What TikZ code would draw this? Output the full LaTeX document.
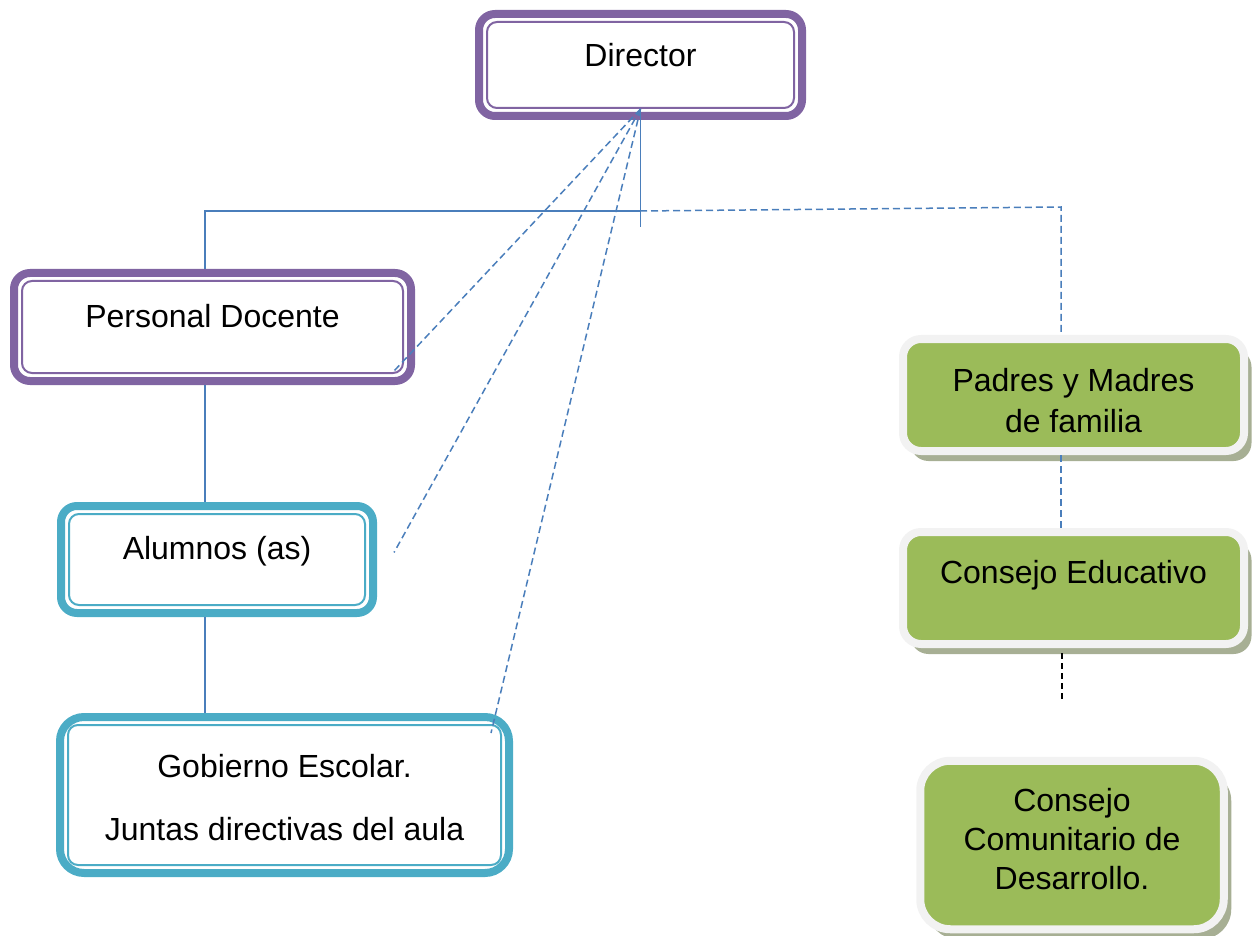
\documentclass[tikz,border=0pt]{standalone}
\usepackage{fontspec}
\setmainfont{Liberation Sans}
\usetikzlibrary{shadows}

\definecolor{framepurple}{HTML}{8064A2}
\definecolor{frameteal}{HTML}{4BACC6}
\definecolor{linkblue}{HTML}{4A7EBB}
\definecolor{boxgreen}{HTML}{9BBB59}
\definecolor{boxrim}{HTML}{F2F2F2}
\definecolor{boxshadow}{HTML}{A7AF94}

\tikzset{
  frame/.style={draw=#1, line width=8pt, fill=white, rounded corners=16pt,
    inner sep=0pt, align=center,
    path picture={\draw[#1, line width=2pt, rounded corners=10pt]
      ([shift={(8pt,-8pt)}]path picture bounding box.north west) rectangle
      ([shift={(-8pt,8pt)}]path picture bounding box.south east);}},
  greenbox/.style={draw=boxrim, line width=8pt, fill=boxgreen, rounded corners=18pt,
    inner sep=0pt, align=center,
    drop shadow={shadow xshift=7.5pt, shadow yshift=-10pt, fill=boxshadow, opacity=1}},
  lift/.style={text height=22pt, text depth=#1},
  orgline/.style={linkblue, line width=1.5pt},
  linkline/.style={linkblue, line width=1.5pt, dash pattern=on 7pt off 4pt},
}

\begin{document}
\begin{tikzpicture}[x=1pt, y=-1pt, font=\fontsize{32}{41}\selectfont]
  \useasboundingbox (0,0) rectangle (1254,936);

  % left column
  \node[frame=framepurple, minimum width=323pt, minimum height=102pt, lift=19pt] (director) at (640.5,65) {Director};
  \node[frame=framepurple, minimum width=397pt, minimum height=108pt, lift=22pt] (docente) at (212.5,327) {Personal Docente};
  \node[frame=frameteal, minimum width=312pt, minimum height=107pt, lift=23pt] (alumnos) at (217,559.5) {Alumnos (as)};
  \node[frame=frameteal, rounded corners=24pt, minimum width=449pt, minimum height=156pt] (gobierno) at (284.5,795)
    {\rule{0pt}{29pt}Gobierno Escolar.\\[22pt]Juntas directivas del aula};

  % right column
  \node[greenbox, minimum width=341pt, minimum height=112pt] (padres) at (1073.5,395) {\rule{0pt}{34pt}Padres y Madres\\de familia};
  \node[greenbox, minimum width=341pt, minimum height=112pt, lift=32pt] (educativo) at (1073.5,588) {Consejo Educativo};
  \node[greenbox, rounded corners=30pt, minimum width=303.5pt, minimum height=168.5pt] (comunitario) at (1072,845)
    {Consejo\\[-2pt]Comunitario de\\[-2pt]Desarrollo.\rule[-13pt]{0pt}{13pt}};

  % points
  \coordinate (hub) at ([yshift=11pt]director.south);
  \coordinate (stem) at ([yshift=-107pt]director.south);
  \coordinate (split) at (640,211);
  \coordinate (branchL) at (205,211);
  \coordinate (branchR) at (1061,207);
  \coordinate (tail) at (1062,700);
  \coordinate (tailtop) at (tail |- educativo.south);
  \coordinate (docente-tip) at ([xshift=-21pt,yshift=14pt]docente.south east);
  \coordinate (alumnos-tip) at ([xshift=17pt,yshift=7pt]alumnos.east);
  \coordinate (gobierno-tip) at ([xshift=-22pt,yshift=-20pt]gobierno.north east);

  % solid chain
  \draw[orgline] (hub) -- (stem);
  \draw[orgline] (split) -- (branchL) -- (branchL |- docente.north);
  \draw[orgline] (branchL |- docente.south) -- (branchL |- alumnos.north);
  \draw[orgline] (branchL |- alumnos.south) -- (branchL |- gobierno.north);

  % dashed links
  \draw[linkline] (hub) -- (docente-tip);
  \draw[linkline] (hub) -- (alumnos-tip);
  \draw[linkline] (hub) -- (gobierno-tip);
  \draw[linkline] (split) -- (branchR) -- (branchR |- padres.north);
  \draw[linkline] (branchR |- padres.south) -- (branchR |- educativo.north);
  \draw[line width=1.5pt, dash pattern=on 6pt off 4pt] ([yshift=-5pt]tailtop) -- (tail);
\end{tikzpicture}
\end{document}
